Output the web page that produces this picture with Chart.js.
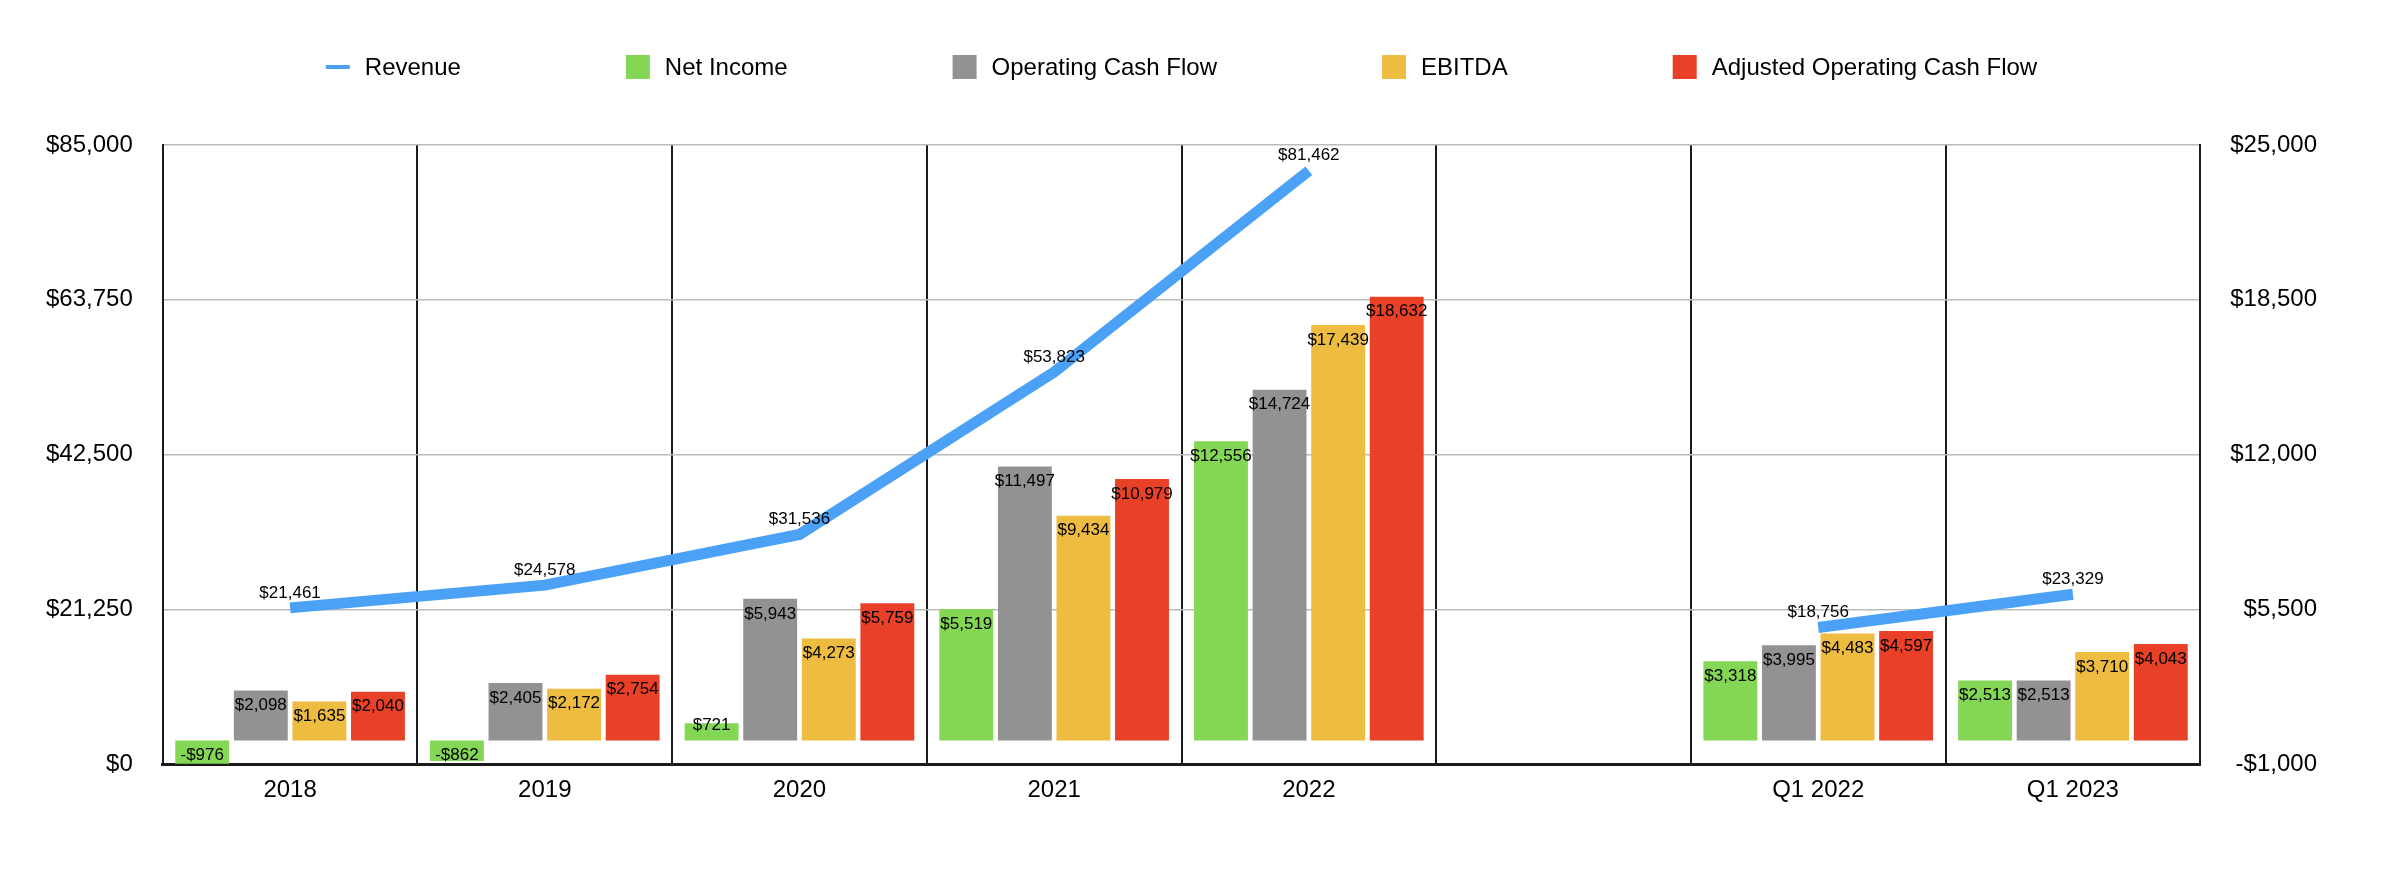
<!DOCTYPE html>
<html>
<head>
<meta charset="utf-8">
<script src="https://cdn.jsdelivr.net/npm/chart.js@4.4.1/dist/chart.umd.min.js"></script>
<style>
    html, body { margin: 0; padding: 0; background: #fff; }
    #wrap { width: 2390px; height: 880px; }
</style>
</head>
<body>
<div id="wrap"><canvas id="mainChart"></canvas></div>
<script>
const FONT = "'Liberation Sans', Arial, Helvetica, sans-serif";

const categories = ['2018', '2019', '2020', '2021', '2022', '', 'Q1 2022', 'Q1 2023'];
const revenue = [21461, 24578, 31536, 53823, 81462, null, 18756, 23329];
const netIncome = [-976, -862, 721, 5519, 12556, null, 3318, 2513];
const operatingCashFlow = [2098, 2405, 5943, 11497, 14724, null, 3995, 2513];
const ebitda = [1635, 2172, 4273, 9434, 17439, null, 4483, 3710];
const adjustedCashFlow = [2040, 2754, 5759, 10979, 18632, null, 4597, 4043];

const leftTicks = { min: 0, max: 85000, step: 21250 };
const rightTicks = { min: -1000, max: 25000, step: 6500 };

function formatMoney(v) {
    const sign = v < 0 ? '-' : '';
    return sign + '$' + Math.abs(v).toLocaleString('en-US');
}

// legend drawn across the top, spaced like the original
const topLegend = {
    id: 'topLegend',
    afterDraw(chart) {
        const ctx = chart.ctx;
        const area = chart.chartArea;
        const box = 24, gap = 15, spacing = 165, y = 67;
        ctx.save();
        ctx.font = `24px ${FONT}`;
        ctx.textBaseline = 'middle';
        ctx.textAlign = 'left';
        const items = chart.data.datasets.map(ds => ({
            label: ds.label,
            color: ds.type === 'line' ? ds.borderColor : ds.backgroundColor,
            isLine: ds.type === 'line'
        }));
        const widths = items.map(it => box + gap + ctx.measureText(it.label).width);
        const total = widths.reduce((a, b) => a + b, 0) + spacing * (items.length - 1);
        let x = (area.left + area.right) / 2 - total / 2;
        items.forEach((it, i) => {
            ctx.fillStyle = it.color;
            if (it.isLine) ctx.fillRect(x, y - 2, box, 4);
            else ctx.fillRect(x, y - box / 2, box, box);
            ctx.fillStyle = '#000';
            ctx.fillText(it.label, x + box + gap, y + 1);
            x += widths[i] + spacing;
        });
        ctx.restore();
    }
};

// value labels: above line points, inside top of bars
const valueLabels = {
    id: 'valueLabels',
    afterDatasetsDraw(chart) {
        const ctx = chart.ctx;
        ctx.save();
        ctx.font = `17px ${FONT}`;
        ctx.fillStyle = '#000';
        ctx.textAlign = 'center';
        ctx.textBaseline = 'middle';
        chart.data.datasets.forEach((ds, di) => {
            const meta = chart.getDatasetMeta(di);
            meta.data.forEach((el, i) => {
                const v = ds.data[i];
                if (v === null || v === undefined) return;
                let ty;
                if (ds.type === 'line') ty = el.y - 15;
                else if (v >= 0) ty = Math.min(el.y + 15, el.base - 15);
                else ty = el.base + 15;
                ctx.fillText(formatMoney(v), el.x, ty);
            });
        });
        ctx.restore();
    }
};

document.addEventListener('DOMContentLoaded', () => {
    Chart.defaults.font.family = FONT;
    Chart.defaults.color = '#000';

    const barOpts = { type: 'bar', yAxisID: 'y1', borderWidth: 0, categoryPercentage: 0.92, barPercentage: 0.92, order: 1 };

    new Chart(document.getElementById('mainChart').getContext('2d'), {
        type: 'bar',
        data: {
            labels: categories,
            datasets: [
                { type: 'line', label: 'Revenue', data: revenue, yAxisID: 'y', borderColor: '#4aa1f6', backgroundColor: '#4aa1f6',
                  borderWidth: 11, pointRadius: 0, tension: 0, spanGaps: false, borderCapStyle: 'butt', order: 0 },
                { ...barOpts, label: 'Net Income', data: netIncome, backgroundColor: '#84d655' },
                { ...barOpts, label: 'Operating Cash Flow', data: operatingCashFlow, backgroundColor: '#929292' },
                { ...barOpts, label: 'EBITDA', data: ebitda, backgroundColor: '#eebc41' },
                { ...barOpts, label: 'Adjusted Operating Cash Flow', data: adjustedCashFlow, backgroundColor: '#e84128' }
            ]
        },
        options: {
            responsive: true,
            maintainAspectRatio: false,
            animation: false,
            layout: { padding: { top: 145, left: 16, right: 73, bottom: 63 } },
            plugins: { legend: { display: false }, tooltip: { enabled: false } },
            scales: {
                x: {
                    offset: true,
                    grid: { offset: true, color: '#1a1a1a', lineWidth: 2, drawTicks: false },
                    border: { color: '#1a1a1a', width: 3 },
                    ticks: { padding: 12, font: { size: 24 }, color: '#000', maxRotation: 0, autoSkip: false }
                },
                y: {
                    position: 'left',
                    min: leftTicks.min, max: leftTicks.max,
                    grid: { color: '#bbbbbb', lineWidth: 1.5, drawTicks: false },
                    border: { color: '#1a1a1a', width: 2 },
                    ticks: { stepSize: leftTicks.step, padding: 30, font: { size: 24 }, color: '#000', callback: v => formatMoney(v) }
                },
                y1: {
                    position: 'right',
                    min: rightTicks.min, max: rightTicks.max,
                    grid: { drawOnChartArea: false, drawTicks: false },
                    border: { color: '#1a1a1a', width: 2 },
                    ticks: { stepSize: rightTicks.step, padding: 15, crossAlign: 'far', font: { size: 24 }, color: '#000', callback: v => formatMoney(v) }
                }
            }
        },
        plugins: [valueLabels, topLegend]
    });
});
</script>
</body>
</html>
